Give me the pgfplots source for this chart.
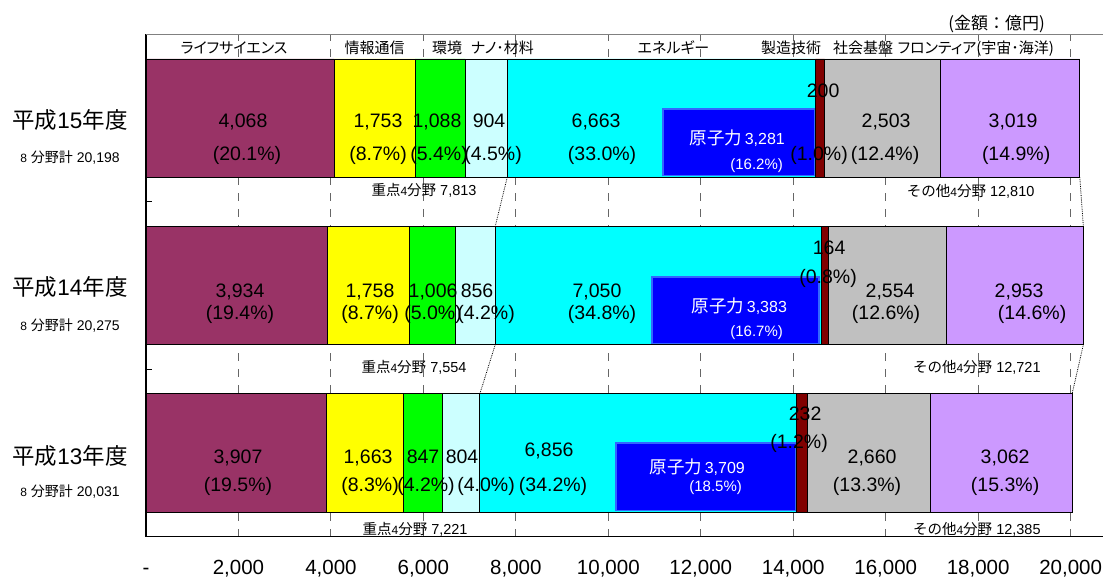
\documentclass[border=0pt]{standalone}
\usepackage{fontspec}
\setmainfont{Liberation Sans}
\newfontfamily\jp{Noto Sans CJK JP}
\newfontfamily\jpp{Noto Sans CJK JP}[RawFeature=+palt]
\usepackage{pgfplots}
\pgfplotsset{compat=1.18}

\definecolor{lifesci}{RGB}{153,51,102}
\definecolor{info}{RGB}{255,255,0}
\definecolor{envir}{RGB}{0,255,0}
\definecolor{nano}{RGB}{204,255,255}
\definecolor{energy}{RGB}{0,255,255}
\definecolor{manuf}{RGB}{128,0,0}
\definecolor{infra}{RGB}{192,192,192}
\definecolor{frontier}{RGB}{204,153,255}
\definecolor{nuclear}{RGB}{0,0,255}
\definecolor{nucedge}{RGB}{51,102,255}

\newcommand\fs[1]{\fontsize{#1}{#1}\selectfont}
% value label inside a bar
\newcommand\lbl[3]{\node[lab] at (axis cs:#1,#2) {#3};}

\begin{document}
\begin{tikzpicture}[x=1pt,y=1pt]
\path[use as bounding box] (0,0) rectangle (1103,581);

\pgfplotsset{
  common/.style={scale only axis, width=957pt, height=502.4pt,
    at={(146pt,44.3pt)}, anchor=south west,
    xmin=0, xmax=20700, ymin=-0.5, ymax=2.5},
}
\tikzset{lab/.style={font=\fs{19.5}, inner sep=0pt, text height=14pt, text depth=0pt}}

% stacked bars: y=2 H15, y=1 H14, y=0 H13
\begin{axis}[common, xbar stacked, bar width=0.706,
  axis x line*=bottom, axis y line*=left,
  axis line style={black, line width=1.3pt},
  xtick={0,2000,...,20000},
  xticklabels={{\mbox{-}},{\mbox{2,000}},{\mbox{4,000}},{\mbox{6,000}},{\mbox{8,000}},{\mbox{10,000}},
    {\mbox{12,000}},{\mbox{14,000}},{\mbox{16,000}},{\mbox{18,000}},{\mbox{20,000}}},
  xticklabel style={font=\fs{20.5}, inner sep=0pt, text height=14.6pt, text depth=0pt,
    anchor=center, yshift=-30.5pt},
  x tick style={draw=none},
  xmajorgrids,
  major grid style={black!60, line width=1.1pt, dash pattern=on 8pt off 8pt},
  ytick={-0.5,0.5,1.5,2.5}, yticklabels={},
  y tick style={black, line width=1pt},
  tick align=inside, major tick length=6pt,
]
\addplot[fill=lifesci,  draw=black, line width=0.8pt] coordinates {(3907,0)(3934,1)(4068,2)};
\addplot[fill=info,     draw=black, line width=0.8pt] coordinates {(1663,0)(1758,1)(1753,2)};
\addplot[fill=envir,    draw=black, line width=0.8pt] coordinates {(847,0)(1006,1)(1088,2)};
\addplot[fill=nano,     draw=black, line width=0.8pt] coordinates {(804,0)(856,1)(904,2)};
\addplot[fill=energy,   draw=black, line width=0.8pt] coordinates {(6856,0)(7050,1)(6663,2)};
\addplot[fill=manuf,    draw=black, line width=0.8pt] coordinates {(232,0)(164,1)(200,2)};
\addplot[fill=infra,    draw=black, line width=0.8pt] coordinates {(2660,0)(2554,1)(2503,2)};
\addplot[fill=frontier, draw=black, line width=0.8pt] coordinates {(3062,0)(2953,1)(3019,2)};
\end{axis}

% overlay: nuclear boxes, connectors and texts
\begin{axis}[common, hide axis, clip=false]
\addplot[fill=nuclear, draw=nucedge, line width=1.2pt] coordinates {(11184,1.655)(14451,1.655)(14451,2.054)(11184,2.054)} --cycle;
\addplot[fill=nuclear, draw=nucedge, line width=1.2pt] coordinates {(10946,0.655)(14559,0.655)(14559,1.051)(10946,1.051)} --cycle;
\addplot[fill=nuclear, draw=nucedge, line width=1.2pt] coordinates {(10168,-0.343)(14040,-0.343)(14040,0.060)(10168,0.060)} --cycle;

\addplot[black, densely dotted, line width=0.8pt] coordinates {(7813,1.647)(7554,1.353)};
\addplot[black, densely dotted, line width=0.8pt] coordinates {(7554,0.647)(7221,0.353)};
\addplot[black, densely dotted, line width=0.8pt] coordinates {(20198,1.647)(20275,1.353)};
\addplot[black, densely dotted, line width=0.8pt] coordinates {(20275,0.647)(20031,0.353)};

% H15
\lbl{2098}{1.988}{4,068}   \lbl{2185}{1.791}{(20.1\%)}
\lbl{5019}{1.988}{1,753}   \lbl{5019}{1.791}{(8.7\%)}
\lbl{6295}{1.988}{1,088}   \lbl{6339}{1.791}{(5.4\%)}
\lbl{7420}{1.988}{904}     \lbl{7507}{1.791}{(4.5\%)}
\lbl{9735}{1.988}{6,663}   \lbl{9865}{1.791}{(33.0\%)}
\lbl{14646}{2.167}{200}    \lbl{14559}{1.791}{(1.0\%)}
\lbl{16008}{1.988}{2,503}  \lbl{15987}{1.791}{(12.4\%)}
\lbl{18756}{1.988}{3,019}  \lbl{18821}{1.791}{(14.9\%)}
% H14
\lbl{2033}{0.973}{3,934}   \lbl{2033}{0.836}{(19.4\%)}
\lbl{4846}{0.973}{1,758}   \lbl{4846}{0.836}{(8.7\%)}
\lbl{6209}{0.973}{1,006}   \lbl{6209}{0.836}{(5.0\%)}
\lbl{7161}{0.973}{856}     \lbl{7355}{0.836}{(4.2\%)}
\lbl{9756}{0.973}{7,050}   \lbl{9865}{0.836}{(34.8\%)}
\lbl{14775}{1.224}{164}    \lbl{14754}{1.051}{(0.8\%)}
\lbl{16095}{0.973}{2,554}  \lbl{16008}{0.836}{(12.6\%)}
\lbl{18886}{0.973}{2,953}  \lbl{19167}{0.836}{(14.6\%)}
% H13
\lbl{1990}{-0.024}{3,907}  \lbl{1990}{-0.191}{(19.5\%)}
\lbl{4803}{-0.024}{1,663}  \lbl{4846}{-0.191}{(8.3\%)}
\lbl{5992}{-0.024}{847}    \lbl{6057}{-0.191}{(4.2\%)}
\lbl{6836}{-0.024}{804}    \lbl{7355}{-0.191}{(4.0\%)}
\lbl{8718}{0.018}{6,856}   \lbl{8805}{-0.191}{(34.2\%)}
\lbl{14256}{0.233}{232}    \lbl{14126}{0.066}{(1.2\%)}
\lbl{15706}{-0.024}{2,660} \lbl{15597}{-0.191}{(13.3\%)}
\lbl{18583}{-0.024}{3,062} \lbl{18583}{-0.191}{(15.3\%)}

% nuclear labels
\tikzset{nl/.style={white, inner sep=0pt, text height=12pt, text depth=0pt, anchor=east}}
\node[nl] at (axis cs:13823,1.875) {{\fs{17.5}\jp 原子力} {\fs{16}3,281}};
\node[nl, font=\fs{15}] at (axis cs:13780,1.731) {(16.2\%)};
\node[nl] at (axis cs:13867,0.872) {{\fs{17.5}\jp 原子力} {\fs{16}3,383}};
\node[nl, font=\fs{15}] at (axis cs:13780,0.734) {(16.7\%)};
\node[nl] at (axis cs:12958,-0.084) {{\fs{17.5}\jp 原子力} {\fs{16}3,709}};
\node[nl, font=\fs{15}] at (axis cs:12893,-0.197) {(18.5\%)};

% category header
\tikzset{hd/.style={font=\fs{15}\jpp, inner sep=0pt, text height=11pt, text depth=0pt}}
\node[hd] at (axis cs:1904,2.418) {ライフサイエンス};
\node[hd] at (axis cs:4943,2.418) {情報通信};
\node[hd] at (axis cs:6512,2.418) {環境};
\node[hd] at (axis cs:7712,2.418) {ナノ･材料};
\node[hd] at (axis cs:11411,2.418) {エネルギー};
\node[hd] at (axis cs:13953,2.418) {製造技術};
\node[hd] at (axis cs:15511,2.418) {社会基盤};
\node[hd] at (axis cs:17949,2.418) {フロンティア(宇宙･海洋)};
\node[inner sep=0pt, font=\fs{17}\jp, text height=12pt, text depth=0pt] at (axis cs:18399,2.567) {(金額：億円)};

% year labels
\tikzset{yr/.style={font=\fs{22.5}, inner sep=0pt, text height=16pt, text depth=0pt},
         sm/.style={font=\fs{14}, inner sep=0pt, text height=10pt, text depth=0pt}}
\node[yr] at (axis cs:-1644,1.988) {{\jp 平成}15{\jp 年度}};
\node[sm] at (axis cs:-1644,1.767) {{\fs{12}8} {\jp 分野計} 20,198};
\node[yr] at (axis cs:-1644,0.991) {{\jp 平成}14{\jp 年度}};
\node[sm] at (axis cs:-1644,0.764) {{\fs{12}8} {\jp 分野計} 20,275};
\node[yr] at (axis cs:-1644,-0.024) {{\jp 平成}13{\jp 年度}};
\node[sm] at (axis cs:-1644,-0.233) {{\fs{12}8} {\jp 分野計} 20,031};

% sub-totals
\tikzset{st/.style={font=\fs{14.5}, inner sep=0pt, text height=10.5pt, text depth=0pt}}
\node[st] at (axis cs:6014,1.570) {{\jp 重点}{\fs{12}4}{\jp 分野} 7,813};
\node[st] at (axis cs:17837,1.564) {{\jp その他}{\fs{12}4}{\jp 分野} 12,810};
\node[st] at (axis cs:5798,0.514) {{\jp 重点}{\fs{12}4}{\jp 分野} 7,554};
\node[st] at (axis cs:17971,0.514) {{\jp その他}{\fs{12}4}{\jp 分野} 12,721};
\node[st] at (axis cs:5820,-0.458) {{\jp 重点}{\fs{12}4}{\jp 分野} 7,221};
\node[st] at (axis cs:17971,-0.458) {{\jp その他}{\fs{12}4}{\jp 分野} 12,385};

% plot-area cut at the bottom, frame lines
\fill[white] ([yshift=-0.6pt]rel axis cs:0,0) rectangle ([yshift=-14pt]rel axis cs:1,0);
\draw[black, line width=1.3pt] (rel axis cs:0,0) -- (rel axis cs:1,0);
\draw[black!50, line width=1.2pt] (rel axis cs:0,1) -- (rel axis cs:1,1);
\end{axis}
\end{tikzpicture}
\end{document}
